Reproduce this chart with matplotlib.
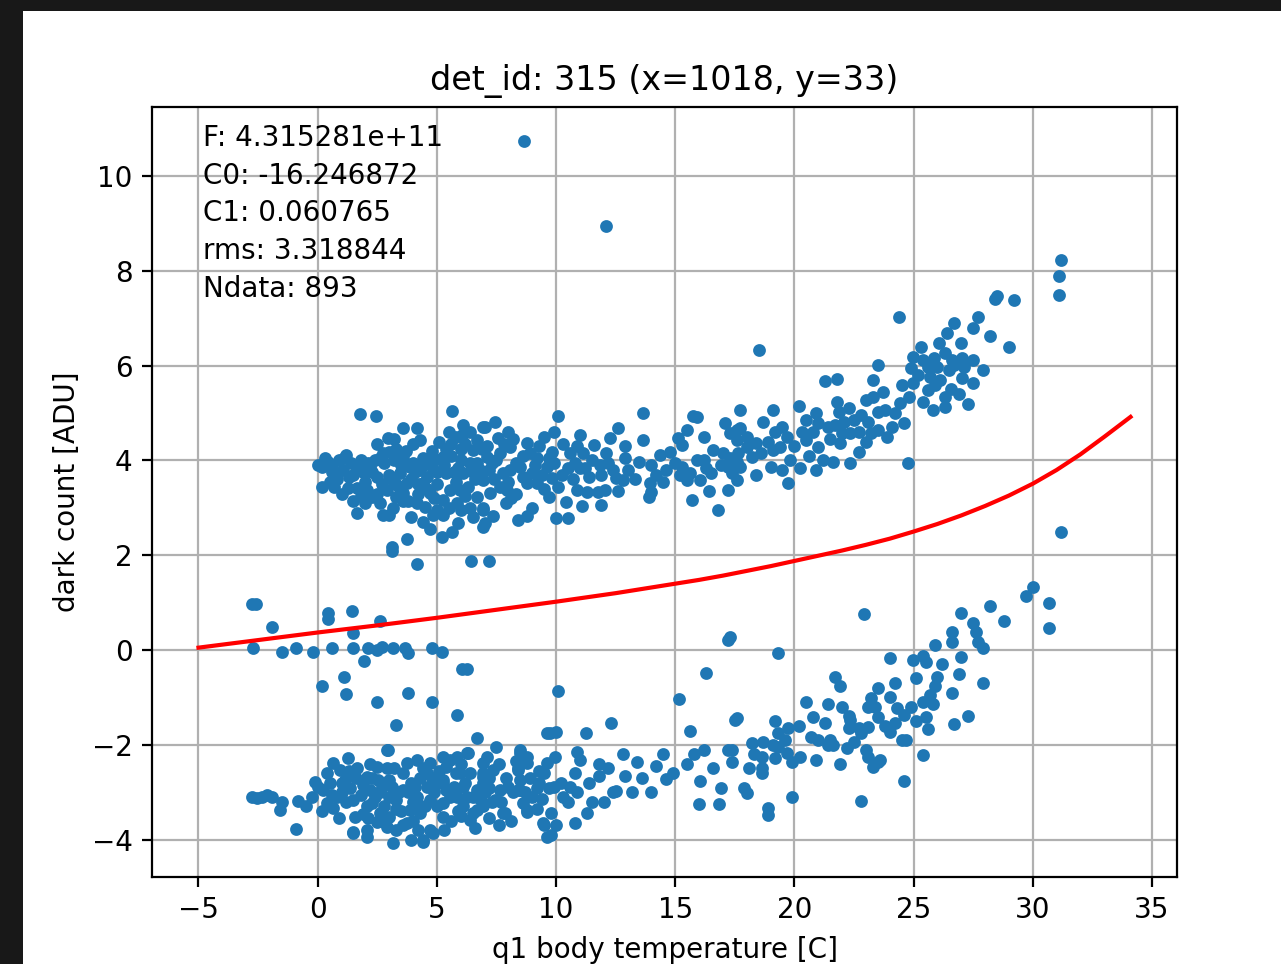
import matplotlib
matplotlib.use('Agg')
import matplotlib.pyplot as plt
from matplotlib.patches import Rectangle

# upper cluster (dark count ~ +4)
upper_band = [
    (1.76, 4.98), (2.44, 4.94), (2.94, 4.47), (3.57, 4.68), (4.16, 4.68), (4.29, 4.43), (5.63, 5.04),
    (6.1, 4.75), (6.4, 4.6), (6.93, 4.7), (3.0, 4.18), (2.73, 4.16), (1.2, 4.11), (0.42, 3.97),
    (0.17, 3.86), (0.17, 3.44), (1.05, 3.8), (1.26, 3.42), (1.64, 3.42), (1.64, 3.84), (1.9, 3.76),
    (2.2, 3.86), (2.5, 3.65), (2.06, 3.38), (2.3, 3.23), (2.6, 3.1), (2.73, 2.85), (1.64, 2.89),
    (2.9, 3.38), (3.3, 3.23), (3.15, 3.0), (3.57, 3.31), (3.74, 3.52), (3.45, 3.73), (3.87, 3.86),
    (4.29, 3.8), (4.4, 3.52), (4.16, 3.1), (4.5, 3.02), (4.7, 3.31), (4.83, 2.85), (5.25, 2.85),
    (4.58, 4.0), (4.83, 3.8), (5.25, 4.07), (5.4, 3.73), (5.55, 3.38), (5.25, 3.16), (5.84, 3.1),
    (5.97, 3.38), (6.1, 3.73), (6.4, 3.95), (6.5, 4.22), (6.7, 4.43), (6.93, 3.59), (6.7, 3.23),
    (6.93, 2.95), (7.0, 2.68), (6.4, 3.0), (5.9, 2.68), (5.63, 2.49), (5.2, 2.38), (3.74, 2.34),
    (3.1, 2.17), (4.16, 1.81),
    (0.6, 3.9), (0.9, 4.0), (1.4, 3.95), (1.8, 4.0), (2.4, 4.0), (2.8, 3.95), (3.2, 4.0), (3.6, 4.05),
    (4.0, 3.95), (4.4, 4.05), (4.9, 4.0), (5.6, 4.1), (6.0, 4.0), (6.7, 3.95), (0.8, 3.6), (1.3, 3.65),
    (2.0, 3.55), (2.7, 3.5), (3.1, 3.6), (3.9, 3.6), (4.6, 3.65), (5.0, 3.5), (5.8, 3.55), (6.3, 3.45),
    (0.6, 3.75), (3.4, 3.45), (4.2, 3.3), (4.9, 3.2), (5.5, 3.0), (6.2, 3.25), (2.0, 3.1), (3.0, 2.85),
    (3.9, 2.8), (4.4, 2.7), (6.0, 2.95), (5.1, 4.4), (5.8, 4.5), (6.2, 4.35), (4.8, 4.2), (3.3, 4.25),
    (6.9, 4.25), (5.4, 4.25), (0.0, 3.9), (0.3, 4.05), (2.5, 4.35), (4.0, 4.35), (1.0, 3.3), (1.5, 3.15),
    (3.8, 3.15), (4.7, 2.55),
    (0.5, 3.55), (1.1, 4.05), (1.5, 3.7), (2.3, 3.75), (2.6, 4.05), (3.0, 3.7), (3.5, 3.9), (3.3, 3.5),
    (4.1, 3.75), (4.6, 3.4), (5.0, 3.75), (5.3, 3.9), (5.7, 3.75), (6.5, 3.75), (6.8, 3.8), (7.3, 3.95),
    (7.4, 3.6), (8.0, 3.55), (8.6, 4.1), (9.1, 3.9), (9.7, 4.05), (10.5, 3.85), (11.2, 3.85), (7.1, 4.3),
    (6.0, 4.25), (5.6, 4.35), (4.4, 3.9), (2.1, 3.95), (3.7, 4.2), (4.2, 3.5), (5.9, 3.85), (6.6, 3.6),
    (5.0, 2.95), (3.6, 3.15), (2.5, 3.3), (1.8, 3.25), (0.7, 3.45), (6.5, 2.8), (8.1, 3.2), (9.5, 3.4),
    (6.1, 4.55), (5.5, 4.6), (7.8, 4.35), (3.2, 4.45),
    (7.0, 4.7), (7.44, 4.81), (7.56, 4.47), (8.0, 4.6), (8.07, 4.28), (7.65, 4.16), (7.1, 4.07),
    (7.2, 3.8), (7.77, 3.73), (8.07, 3.8), (7.65, 3.44), (7.23, 3.31), (7.94, 3.38), (6.93, 3.0),
    (7.35, 2.83), (6.93, 2.6), (8.8, 4.37), (8.9, 4.16), (8.5, 3.86), (8.6, 3.65), (9.0, 3.73),
    (9.2, 3.52), (8.8, 3.52), (9.5, 4.49), (9.9, 4.6), (9.83, 4.18), (9.6, 3.86), (9.83, 3.63),
    (10.25, 3.69), (10.6, 4.16), (11.0, 4.54), (11.13, 4.16), (11.0, 3.84), (10.9, 3.38), (11.3, 3.33),
    (11.4, 3.65), (11.6, 4.32), (11.85, 3.9), (12.1, 4.16), (12.27, 4.47), (12.6, 4.68), (12.4, 3.8),
    (12.5, 3.63), (12.8, 3.59), (13.0, 3.8), (12.06, 3.38), (11.76, 3.33), (13.5, 3.97), (13.95, 3.52),
    (14.0, 3.33), (14.37, 4.11), (14.8, 4.18), (15.1, 4.47), (15.3, 4.32), (15.5, 4.64), (16.2, 4.49),
    (15.9, 4.92), (15.3, 3.86), (15.6, 3.73), (15.9, 4.0), (15.5, 3.59), (16.05, 3.59), (16.5, 3.73),
    (16.6, 4.22), (17.0, 4.16), (17.2, 3.86), (17.6, 3.97), (17.6, 4.64), (17.6, 3.59), (17.2, 3.37),
    (15.7, 3.16), (16.8, 2.95), (9.7, 3.23), (10.4, 3.12), (10.0, 2.78), (10.5, 2.78), (8.4, 2.74),
    (8.8, 2.83), (11.9, 3.06), (13.9, 3.23), (13.66, 4.43), (13.66, 5.0), (15.76, 4.94), (17.1, 4.79),
    (10.1, 4.94), (7.2, 1.88), (6.43, 1.88),
    (7.5, 4.0), (8.3, 3.95), (9.2, 4.05), (9.9, 3.95), (10.8, 3.95), (11.5, 4.0), (12.2, 3.95),
    (12.9, 4.05), (14.0, 3.9), (14.6, 3.8), (15.0, 3.95), (16.2, 4.0), (16.9, 3.9), (8.2, 4.45),
    (9.3, 4.3), (10.3, 4.35), (10.9, 4.3), (12.9, 4.3), (7.9, 3.1), (8.3, 3.3), (9.0, 3.0),
    (10.1, 3.45), (11.1, 3.05), (12.6, 3.35), (14.5, 3.55), (16.4, 3.35), (13.3, 3.6), (9.4, 3.7),
    (10.7, 3.6), (11.9, 3.7), (15.2, 3.7), (16.3, 3.85), (14.2, 3.7),
    (17.7, 5.06), (19.1, 5.06), (20.2, 5.15), (20.9, 5.0), (18.7, 4.81), (17.7, 4.68), (17.3, 4.58),
    (17.6, 4.43), (18.0, 4.28), (18.4, 4.37), (18.9, 4.39), (19.2, 4.6), (19.5, 4.7), (19.7, 4.49),
    (19.4, 4.28), (19.1, 4.22), (18.2, 4.07), (17.65, 4.16), (17.3, 4.05), (17.7, 3.86), (17.4, 3.73),
    (19.0, 3.86), (19.5, 3.8), (19.75, 3.52), (20.25, 3.84), (20.5, 4.85), (21.0, 4.79), (20.3, 4.6),
    (20.8, 4.6), (20.5, 4.43), (21.0, 4.28), (21.2, 4.0), (21.6, 3.97), (21.4, 4.7), (21.8, 5.23),
    (21.85, 5.02), (22.3, 5.1), (21.7, 4.75), (22.1, 4.81), (22.5, 4.85), (22.0, 4.58), (21.9, 4.37),
    (22.35, 4.58), (22.7, 4.6), (23.1, 4.81), (23.0, 5.27), (23.3, 5.7), (23.3, 5.34), (23.7, 5.44),
    (23.8, 5.06), (23.5, 5.02), (23.2, 4.58), (23.5, 4.64), (23.9, 4.49), (22.7, 4.18), (22.35, 3.95),
    (24.45, 5.21), (24.8, 5.34), (24.6, 4.79), (24.96, 5.63), (24.9, 5.95), (24.96, 6.18), (25.4, 6.12),
    (25.6, 5.97), (25.7, 5.76), (25.9, 5.59), (25.6, 5.49), (25.4, 5.23), (25.8, 5.06), (26.3, 5.13),
    (26.3, 5.34), (26.55, 5.5), (26.05, 6.48), (26.3, 6.27), (26.6, 6.12), (27.0, 6.48), (27.05, 6.16),
    (27.1, 5.97), (27.5, 6.12), (27.05, 5.74), (27.5, 5.63), (25.85, 6.16), (26.0, 5.97), (26.5, 5.91),
    (26.7, 6.01), (24.4, 7.03), (18.5, 6.33), (29.0, 6.4), (28.2, 6.62), (27.7, 7.03), (26.7, 6.9),
    (26.4, 6.69), (27.5, 6.79), (24.75, 3.94), (23.5, 6.01), (21.8, 5.72), (21.3, 5.67), (28.4, 7.4),
    (29.2, 7.38), (28.5, 7.47), (31.2, 8.23), (31.1, 7.9), (31.1, 7.5), (31.2, 2.49), (8.66, 10.74),
    (12.1, 8.95),
    (18.0, 4.5), (18.6, 4.15), (20.0, 4.3), (20.6, 4.1), (21.5, 4.45), (22.8, 4.95), (24.2, 5.0),
    (24.5, 5.6), (25.2, 5.8), (26.9, 5.4), (27.3, 5.2), (26.1, 5.7), (25.3, 6.4), (27.9, 5.9),
    (24.1, 4.7), (23.0, 4.4), (19.8, 4.0), (18.4, 3.7), (20.9, 3.8),
]

# lower cluster (dark count ~ -3)
lower_band = [
    (-2.75, -3.1), (-2.35, -3.1), (-2.56, -3.12), (-2.14, -3.06), (-1.9, -3.1), (-1.5, -3.2),
    (-1.6, -3.38), (-0.84, -3.18), (-0.9, -3.78), (-0.25, -3.1), (-0.13, -2.78), (0.63, -2.38),
    (1.26, -2.28), (0.92, -2.53), (1.64, -2.49), (1.13, -2.74), (1.34, -2.91), (0.38, -3.23),
    (0.63, -3.33), (0.21, -2.95), (0.8, -3.1), (1.47, -3.16), (1.55, -3.52), (1.47, -3.84), (2.06, -3.8),
    (2.06, -2.68), (2.18, -2.95), (2.3, -3.23), (2.06, -3.3), (2.48, -2.47), (2.52, -2.74), (2.9, -2.11),
    (3.0, -2.74), (2.6, -3.44), (3.0, -3.52), (2.9, -3.73), (3.15, -4.07), (2.48, -3.63), (3.3, -3.16),
    (3.57, -2.95), (3.57, -2.6), (3.74, -2.38), (4.16, -2.32), (3.87, -3.38), (3.74, -3.65), (4.29, -3.44),
    (4.4, -4.0), (4.7, -3.8), (4.58, -2.6), (4.58, -2.9), (4.7, -3.16), (4.16, -3.1), (4.7, -2.38),
    (5.25, -2.26), (5.84, -2.26), (5.4, -2.47), (5.97, -2.6), (5.25, -2.74), (5.55, -3.1), (5.25, -3.23),
    (6.1, -3.3), (6.26, -3.1), (6.68, -3.38), (6.4, -3.59), (6.68, -2.95), (6.93, -2.68), (6.4, -2.6),
    (6.3, -2.17), (6.68, -1.86), (6.93, -2.38),
    (9.6, -1.76), (7.5, -2.05), (8.5, -2.17), (8.8, -2.38), (8.4, -2.53), (9.6, -2.38), (9.3, -2.8),
    (8.5, -2.95), (8.8, -3.38), (9.45, -3.65), (9.6, -3.94), (7.77, -3.44), (6.93, -3.23), (6.5, -3.44),
    (6.93, -2.8), (7.35, -2.53), (7.65, -2.95), (6.26, -2.17), (5.55, -2.32), (5.25, -2.8), (5.84, -3.1),
    (5.25, -3.52), (4.83, -3.86), (4.4, -4.05), (1.47, -3.86), (2.06, -3.94),
    (0.5, -2.8), (1.0, -3.0), (1.8, -3.05), (2.4, -3.1), (2.8, -3.3), (3.4, -3.0), (3.9, -2.8),
    (4.3, -2.7), (4.9, -3.0), (5.7, -2.9), (6.0, -3.5), (7.0, -3.0), (7.3, -3.2), (7.9, -2.7),
    (8.2, -3.0), (9.0, -3.1), (9.9, -2.9), (1.9, -3.45), (2.7, -2.9), (3.5, -3.4), (4.0, -3.6),
    (5.0, -3.3), (6.2, -2.8), (7.6, -2.4), (8.9, -2.7), (0.4, -2.6), (1.6, -2.7), (3.2, -2.5),
    (5.6, -3.6), (6.6, -3.75), (3.3, -3.8), (4.5, -3.3), (2.2, -2.4), (7.2, -3.55), (9.2, -3.35),
    (8.1, -3.6), (0.9, -3.55), (3.0, -3.1), (4.0, -3.2), (5.1, -2.55),
    (0.6, -3.05), (1.2, -3.2), (1.9, -2.85), (2.1, -3.55), (2.6, -3.0), (3.1, -2.9), (3.3, -3.35),
    (3.8, -3.0), (4.1, -2.9), (4.3, -3.3), (4.8, -2.7), (5.0, -2.8), (5.4, -2.95), (5.8, -2.6),
    (6.1, -2.9), (6.5, -3.1), (6.8, -3.15), (7.2, -2.7), (7.7, -3.2), (8.0, -2.9), (8.3, -2.35),
    (8.7, -3.0), (9.3, -2.55), (9.4, -3.15), (2.7, -3.6), (3.6, -3.7), (4.2, -3.8), (5.3, -3.8),
    (5.9, -3.4), (0.2, -3.4), (1.3, -2.55), (2.9, -2.5), (4.4, -2.5), (6.0, -2.4), (1.0, -2.8),
    (2.3, -2.7), (0.0, -2.9), (-0.5, -3.3), (3.9, -4.0), (7.6, -3.7),
    (10.1, -0.86), (16.3, -0.49), (15.17, -1.03), (17.2, 0.21), (12.3, -1.54), (11.26, -1.75),
    (9.75, -1.76), (10.0, -1.72), (15.6, -1.7), (17.5, -1.48), (13.4, -2.36), (14.5, -2.2),
    (14.2, -2.45), (16.2, -2.11), (17.2, -2.11), (14.9, -2.6), (14.6, -2.73), (16.05, -2.76),
    (16.9, -2.92), (16.0, -3.25), (16.85, -3.25), (12.9, -2.66), (13.2, -3.0), (12.5, -2.97),
    (11.8, -2.4), (11.8, -2.66), (10.9, -2.15), (11.0, -2.32), (10.8, -2.6), (10.6, -2.9), (10.9, -3.0),
    (10.5, -3.2), (11.5, -3.2), (12.0, -3.2), (11.3, -3.44), (10.8, -3.65), (10.0, -3.69), (9.5, -3.69),
    (9.8, -3.9), (9.8, -3.44), (9.96, -2.26), (9.5, -2.6), (10.2, -2.8), (10.3, -3.1), (9.7, -2.92),
    (9.2, -2.92), (8.5, -2.11), (8.8, -2.26), (8.4, -2.49), (8.5, -2.74), (8.4, -2.95), (8.6, -3.23),
    (8.8, -3.42), (7.86, -3.44), (7.1, -2.26), (6.93, -2.6), (7.2, -2.92), (7.44, -3.16), (6.93, -3.3),
    (12.4, -3.0),
    (22.9, 0.76), (19.3, -0.06), (17.3, 0.27), (24.0, -0.17), (24.96, -0.21), (25.4, -0.13),
    (25.5, -0.25), (25.9, 0.1), (26.6, 0.38), (26.6, 0.17), (27.0, 0.78), (27.0, -0.15), (27.5, 0.57),
    (27.6, 0.38), (27.7, 0.17), (27.9, 0.04), (28.2, 0.93), (28.8, 0.61), (29.7, 1.14), (30.0, 1.33),
    (30.7, 0.99), (30.7, 0.46), (27.9, -0.7), (27.3, -1.39), (26.7, -1.56), (26.6, -0.91), (26.0, -0.57),
    (25.9, -0.76), (25.7, -0.95), (25.8, -1.14), (25.4, -1.1), (25.5, -1.41), (25.6, -1.67),
    (25.4, -2.22), (24.6, -2.76), (24.2, -0.7), (23.5, -0.8), (23.2, -1.01), (23.1, -1.2), (23.4, -1.2),
    (24.3, -1.22), (24.9, -1.2), (24.6, -1.37), (24.2, -1.54), (24.0, -1.73), (24.5, -1.9), (24.7, -1.9),
    (23.5, -1.41), (23.1, -1.62), (22.8, -1.75), (22.5, -1.94), (22.35, -1.48), (22.2, -2.07),
    (23.0, -2.11), (23.1, -2.26), (23.5, -2.36), (23.6, -2.32), (23.3, -2.47), (22.8, -3.19),
    (21.9, -2.4), (21.5, -1.9), (21.6, -2.0), (21.3, -1.54), (21.4, -2.0), (21.0, -1.9), (20.8, -1.41),
    (20.7, -1.84), (20.9, -2.32), (21.4, -1.14), (20.5, -1.1), (21.7, -0.57), (21.9, -0.76),
    (19.75, -1.65), (19.2, -1.5), (19.3, -1.75), (18.7, -1.94), (19.1, -2.0), (19.3, -2.05),
    (18.65, -2.26), (18.65, -2.49), (18.65, -2.6), (19.2, -2.28), (19.7, -2.17), (19.9, -2.36),
    (20.25, -2.26), (18.2, -1.96), (18.1, -2.49), (17.6, -1.43), (17.4, -2.11), (17.4, -2.36),
    (17.9, -2.91), (18.0, -3.02), (18.9, -3.33), (18.9, -3.48), (19.9, -3.1), (22.3, -1.4),
    (22.3, -1.65), (22.7, -1.65),
    (12.8, -2.2), (13.6, -2.7), (15.5, -2.4), (14.0, -3.0), (11.4, -2.8), (12.2, -2.5), (24.0, -1.0),
    (23.8, -1.6), (22.0, -1.2), (26.2, -0.3), (26.9, -0.5), (20.2, -1.6), (19.6, -1.9), (18.3, -2.2),
    (16.6, -2.5), (15.8, -2.2), (25.1, -0.6), (25.1, -1.5),
]

# points in between the two clusters
middle = [
    (-2.77, 0.97), (-2.6, 0.97), (-1.9, 0.49), (-2.73, 0.04), (-1.5, -0.04), (-0.92, 0.04),
    (-0.2, -0.04), (0.42, 0.65), (0.42, 0.78), (0.59, 0.04), (1.43, 0.82), (1.47, 0.36), (1.47, 0.04),
    (2.6, 0.61), (2.1, 0.04), (2.5, 0.0), (2.7, 0.06), (3.15, 0.04), (3.66, 0.04), (3.8, -0.06),
    (4.8, 0.04), (5.2, -0.04), (1.93, -0.23), (1.1, -0.57), (0.17, -0.76), (1.18, -0.93), (2.5, -1.1),
    (3.8, -0.9), (4.8, -1.1), (6.05, -0.4), (6.25, -0.4), (5.84, -1.37), (3.3, -1.58), (2.94, -2.11),
    (3.1, 2.1),
]

# fitted model curve
fit_temp = [-5, -2.5, 0, 2.5, 5, 7.5, 10, 12.5, 15, 16, 17, 18, 19, 20, 21, 22, 23, 24, 25,
            26, 27, 28, 29, 30, 31, 32, 33, 34.1]
fit_dark = [0.05, 0.21, 0.37, 0.52, 0.68, 0.85, 1.02, 1.2, 1.4, 1.48, 1.57, 1.67, 1.77, 1.88, 1.99,
            2.1, 2.22, 2.35, 2.5, 2.66, 2.84, 3.04, 3.26, 3.51, 3.8, 4.13, 4.5, 4.92]

info_lines = ['F: 4.315281e+11', 'C0: -16.246872', 'C1: 0.060765', 'rms: 3.318844', 'Ndata: 893']

points = upper_band + lower_band + middle
temp = [p[0] for p in points]
dark = [p[1] for p in points]

W, H = 1281, 964
fig = plt.figure(figsize=(W / 100, H / 100), dpi=100, facecolor='#181818')
fig.add_artist(Rectangle((23 / W, 0), 1, 1 - 11 / H, transform=fig.transFigure,
                         facecolor='white', edgecolor='none', zorder=-1))
ax = fig.add_axes([152 / W, (H - 877) / H, 1025 / W, 770 / H])

ax.plot(temp, dark, 'o', color='#1f77b4', ms=7.2, mew=2.0)
ax.plot(fit_temp, fit_dark, color='red', lw=3)

ax.set_xlim(-6.95, 36.05)
ax.set_ylim(-4.79, 11.46)
ax.set_xticks(range(-5, 36, 5))
ax.set_yticks(range(-4, 11, 2))
ax.grid(True, color='#b0b0b0', lw=1.6)
ax.tick_params(labelsize=20, length=7, width=1.6, pad=7)
for s in ax.spines.values():
    s.set_linewidth(1.6)

ax.text(0.05, 0.978, '\n'.join(info_lines), transform=ax.transAxes, va='top', ha='left',
        fontsize=20, linespacing=1.44)
ax.set_title('det_id: 315 (x=1018, y=33)', fontsize=24, pad=12)
ax.set_xlabel('q1 body temperature [C]', fontsize=20, labelpad=8)
ax.set_ylabel('dark count [ADU]', fontsize=20, labelpad=8)

fig.savefig('out.png', dpi=100, facecolor=fig.get_facecolor())
